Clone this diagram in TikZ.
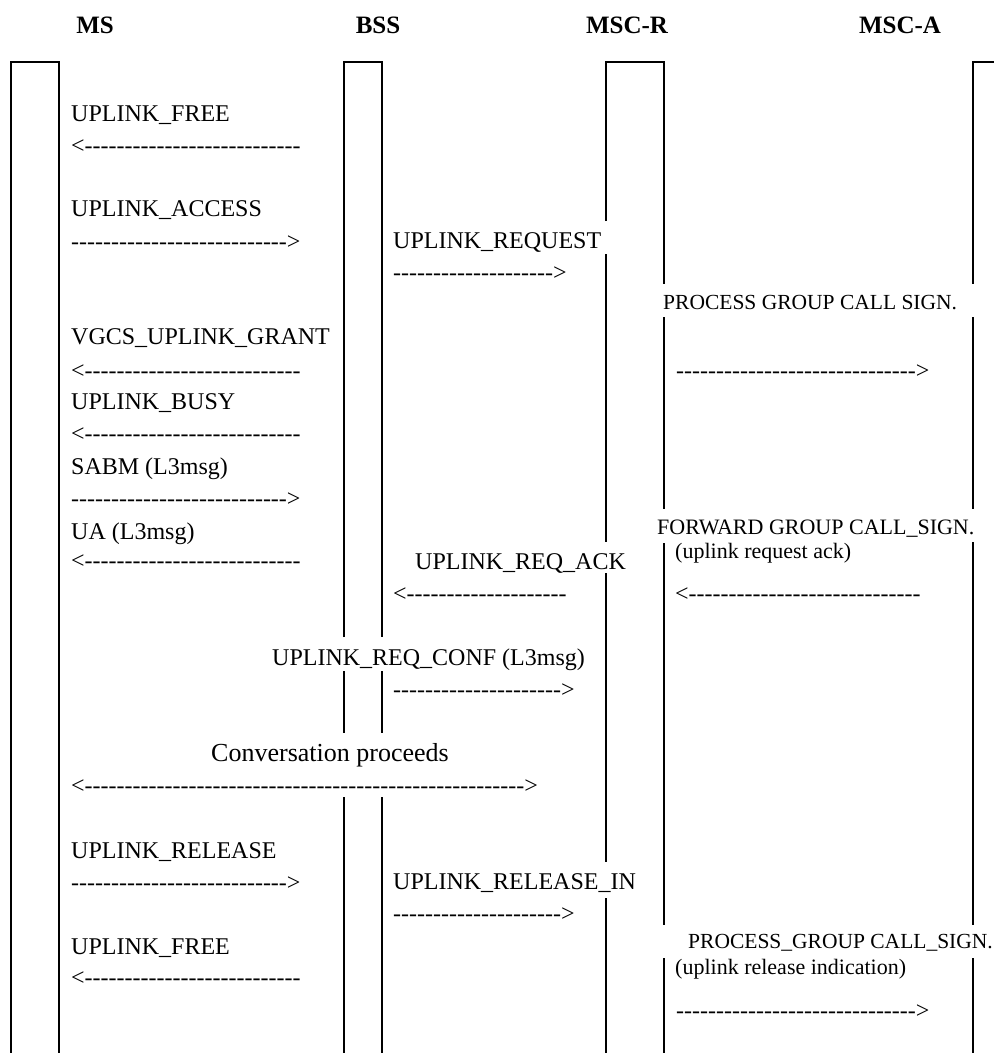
\documentclass[tikz,border=0pt]{standalone}
\usepackage{fontspec}
\setmainfont{Liberation Serif}
\newfontfamily\arrfont{Liberation Serif}
\newcommand\hyph[1]{\foreach \k in {1,...,#1}{-}}
\tikzset{
  life/.style={line width=2pt},
  lbl/.style={anchor=base west, inner sep=0pt, font=\fontsize{24}{28}\selectfont},
  note/.style={anchor=base west, inner sep=0pt, font=\fontsize{22}{26}\selectfont},
  smallnote/.style={anchor=base west, inner sep=0pt, font=\fontsize{21.5}{26}\selectfont},
  hdr/.style={anchor=base, inner sep=0pt, font=\fontsize{25}{30}\selectfont\bfseries},
  txtarrow/.style={anchor=base west, inner sep=0pt, font=\arrfont\fontsize{24}{28}\selectfont},
}
\begin{document}
\begin{tikzpicture}[x=1pt, y=-1pt]
\useasboundingbox (0,0) rectangle (994,1053);

% headers
\node[hdr] (hMS) at (95,33) {MS};
\node[hdr] (hBSS) at (378,33) {BSS};
\node[hdr] (hMSCR) at (627,33) {MSC-R};
\node[hdr] (hMSCA) at (900,33) {MSC-A};

% life lines
\draw[life] (11,1053) -- (11,62) -- (59,62) -- (59,1053);
\draw[life] (344,637) -- (344,62) -- (382,62) -- (382,637);
\draw[life] (344,671) -- (344,733) (382,671) -- (382,733);
\draw[life] (344,797) -- (344,1053) (382,797) -- (382,1053);
\draw[life] (606,221) -- (606,62) -- (664,62) -- (664,284);
\draw[life] (606,254) -- (606,542) (606,573) -- (606,862) (606,898) -- (606,1053);
\draw[life] (664,317) -- (664,509) (664,543) -- (664,925) (664,958) -- (664,1053);
\draw[life] (994,62) -- (973,62) -- (973,284);
\draw[life] (973,317) -- (973,509) (973,542) -- (973,925) (973,958) -- (973,1053);

% MS <-> BSS messages
\node[lbl] (m1) at (71,121) {UPLINK\_FREE};
\node[txtarrow] (a1) at (71,153) {<\hyph{27}};
\node[lbl] (m2) at (71,216) {UPLINK\_ACCESS};
\node[txtarrow] (a2) at (71,249) {\hyph{27}>};
\node[lbl] (m3) at (71,344) {VGCS\_UPLINK\_GRANT};
\node[txtarrow] (a3) at (71,378) {<\hyph{27}};
\node[lbl] (m4) at (71,409) {UPLINK\_BUSY};
\node[txtarrow] (a4) at (71,441) {<\hyph{27}};
\node[lbl] (m5) at (71,474) {SABM (L3msg)};
\node[txtarrow] (a5) at (71,506) {\hyph{27}>};
\node[lbl] (m6) at (71,539) {UA (L3msg)};
\node[txtarrow] (a6) at (71,568) {<\hyph{27}};
\node[anchor=base, inner sep=0pt, font=\fontsize{26}{30}\selectfont] (m7) at (330,761) {Conversation proceeds};
\node[txtarrow] (a7) at (71,793) {<\hyph{55}>};
\node[lbl] (m8) at (71,858) {UPLINK\_RELEASE};
\node[txtarrow] (a8) at (71,890) {\hyph{27}>};
\node[lbl] (m9) at (71,954) {UPLINK\_FREE};
\node[txtarrow] (a9) at (71,985) {<\hyph{27}};

% BSS <-> MSC-R messages
\node[lbl] (b1) at (393,248) {UPLINK\_REQUEST};
\node[txtarrow] (c1) at (393,280) {\hyph{20}>};
\node[lbl] (b2) at (415,569) {UPLINK\_REQ\_ACK};
\node[txtarrow] (c2) at (393,601) {<\hyph{20}};
\node[lbl] (b3) at (272,665) {UPLINK\_REQ\_CONF (L3msg)};
\node[txtarrow] (c3) at (393,697) {\hyph{21}>};
\node[lbl] (b4) at (393,889) {UPLINK\_RELEASE\_IN};
\node[txtarrow] (c4) at (393,921) {\hyph{21}>};

% MSC-R <-> MSC-A messages
\node[smallnote] (r1) at (663,309) {PROCESS GROUP CALL SIGN.};
\node[txtarrow] (s1) at (676,378) {\hyph{30}>};
\node[note] (r2) at (657,534) {FORWARD GROUP CALL\_SIGN.};
\node[note] (r3) at (675,558) {(uplink request ack)};
\node[txtarrow] (s2) at (675,601) {<\hyph{29}};
\node[smallnote] (r4) at (688,948) {PROCESS\_GROUP CALL\_SIGN.};
\node[note] (r5) at (675,974) {(uplink release indication)};
\node[txtarrow] (s3) at (676,1018) {\hyph{30}>};
\end{tikzpicture}
\end{document}
